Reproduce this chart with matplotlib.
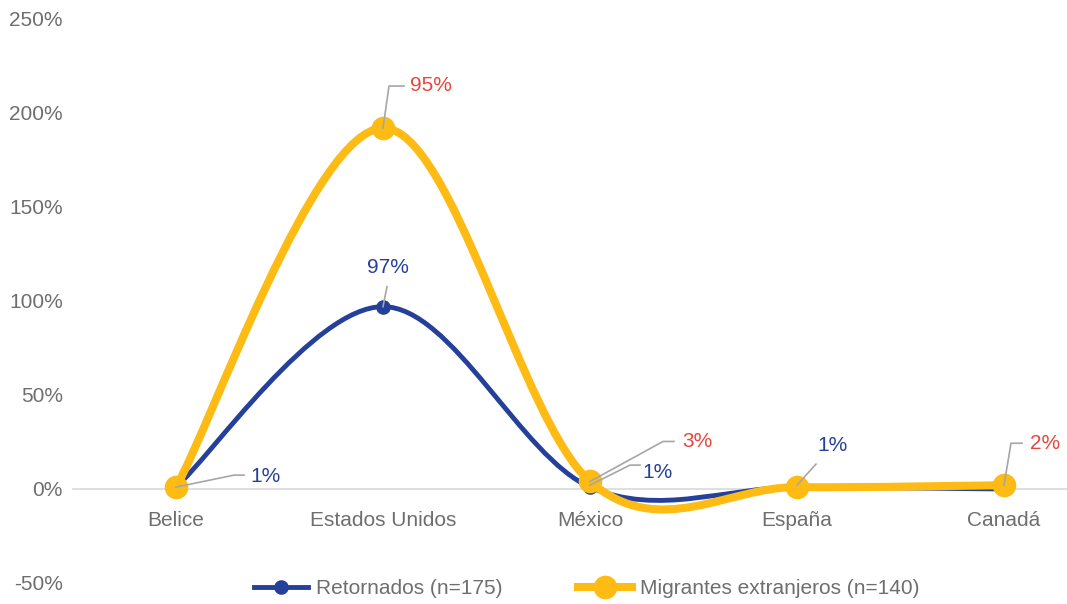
import matplotlib
matplotlib.use("Agg")
import matplotlib.pyplot as plt
from matplotlib.path import Path
from matplotlib.patches import PathPatch
from matplotlib.lines import Line2D

plt.rcParams['font.family'] = ['Liberation Sans', 'DejaVu Sans']

paises = ["Belice", "Estados Unidos", "México", "España", "Canadá"]
retornados = [1, 97, 1, 1, 0]
migrantes = [0, 95, 3, 0, 2]
y_ticks = [-50, 0, 50, 100, 150, 200, 250]

azul = "#25409A"
amarillo = "#FDBB14"
rojo = "#E8463B"
gris = "#6E6E6E"
gris_linea = "#A6A6A6"
fs = 15

# serie apilada (linea apilada de Excel)
migrantes_apil = [a + b for a, b in zip(retornados, migrantes)]


def curva_suave(xs, ys):
    # Bezier como el suavizado de Excel (Catmull-Rom, 1/6)
    n = len(xs)
    verts = [(xs[0], ys[0])]
    codes = [Path.MOVETO]
    for i in range(n - 1):
        p0 = max(i - 1, 0)
        p3 = min(i + 2, n - 1)
        c1 = (xs[i] + (xs[i + 1] - xs[p0]) / 6, ys[i] + (ys[i + 1] - ys[p0]) / 6)
        c2 = (xs[i + 1] - (xs[p3] - xs[i]) / 6, ys[i + 1] - (ys[p3] - ys[i]) / 6)
        verts += [c1, c2, (xs[i + 1], ys[i + 1])]
        codes += [Path.CURVE4] * 3
    return Path(verts, codes)


fig = plt.figure(figsize=(10.67, 6.04), dpi=100)
ax = fig.add_axes([72.5 / 1067, 21 / 604, 1035 / 1067, 564 / 604])
ax.set_xlim(-0.5, 4.5)
ax.set_ylim(-50, 250)

x = list(range(len(paises)))
ax.add_patch(PathPatch(curva_suave(x, retornados), fill=False, edgecolor=azul,
                       lw=3.5, capstyle='round', zorder=3))
ax.plot(x, retornados, 'o', color=azul, ms=9.5, zorder=4)
ax.add_patch(PathPatch(curva_suave(x, migrantes_apil), fill=False, edgecolor=amarillo,
                       lw=5.8, capstyle='round', zorder=5))
ax.plot(x, migrantes_apil, 'o', color=amarillo, ms=16, zorder=6)

for s in ['top', 'right', 'left']:
    ax.spines[s].set_visible(False)
ax.spines['bottom'].set_position(('data', 0))
ax.spines['bottom'].set_color('#D9D9D9')
ax.spines['bottom'].set_linewidth(1.2)

ax.set_xticks(x)
ax.set_xticklabels(paises)
ax.set_yticks(y_ticks)
ax.set_yticklabels([f"{v}%" for v in y_ticks])
ax.tick_params(axis='x', length=0, pad=16, labelsize=fs, labelcolor=gris)
ax.tick_params(axis='y', length=0, pad=7, labelsize=fs, labelcolor=gris)

# etiquetas de datos con lineas guia (desplazamientos en pixeles)
etiquetas = [
    (0, retornados[0], f"{retornados[0]}%", azul, [(0, 0), (58, 12), (68, 12)], (74, 11)),
    (1, retornados[1], f"{retornados[1]}%", azul, [(0, 0), (4, 20)], (5, 39)),
    (2, retornados[2], f"{retornados[2]}%", azul, [(0, 2), (40, 22), (50, 22)], (52, 15)),
    (3, retornados[3], f"{retornados[3]}%", azul, [(0, 2), (19, 23)], (20, 42)),
    (1, migrantes_apil[1], f"{migrantes[1]}%", rojo, [(0, 0), (6, 42), (21, 42)], (27, 43)),
    (2, migrantes_apil[2], f"{migrantes[2]}%", rojo, [(0, 0), (73, 40), (84, 40)], (92, 40)),
    (4, migrantes_apil[4], f"{migrantes[4]}%", rojo, [(0, 0), (7, 42), (18, 42)], (26, 42)),
]
fig.canvas.draw()
for xi, yi, txt, col, guia, pos in etiquetas:
    px, py = ax.transData.transform((xi, yi))
    xs_g = [px + dx for dx, dy in guia]
    ys_g = [py + dy for dx, dy in guia]
    fig.add_artist(Line2D(xs_g, ys_g, color=gris_linea, lw=1.2, transform=None, zorder=7))
    fig.text((px + pos[0]) / fig.dpi / fig.get_figwidth(),
             (py + pos[1]) / fig.dpi / fig.get_figheight(),
             txt, color=col, fontsize=fs, ha='left' if pos[0] > 15 else 'center', va='center')

handles = [
    Line2D([], [], color=azul, lw=3.5, marker='o', ms=9.5),
    Line2D([], [], color=amarillo, lw=5.8, marker='o', ms=16),
]
fig.legend(handles, ["Retornados (n=175)", "Migrantes extranjeros (n=140)"],
           loc='center', bbox_to_anchor=(587 / 1067, 15 / 604), ncol=2, frameon=False,
           fontsize=fs, labelcolor=gris, handlelength=2.6, handletextpad=0.4,
           columnspacing=3.6)

fig.savefig("out.png", dpi=100)
